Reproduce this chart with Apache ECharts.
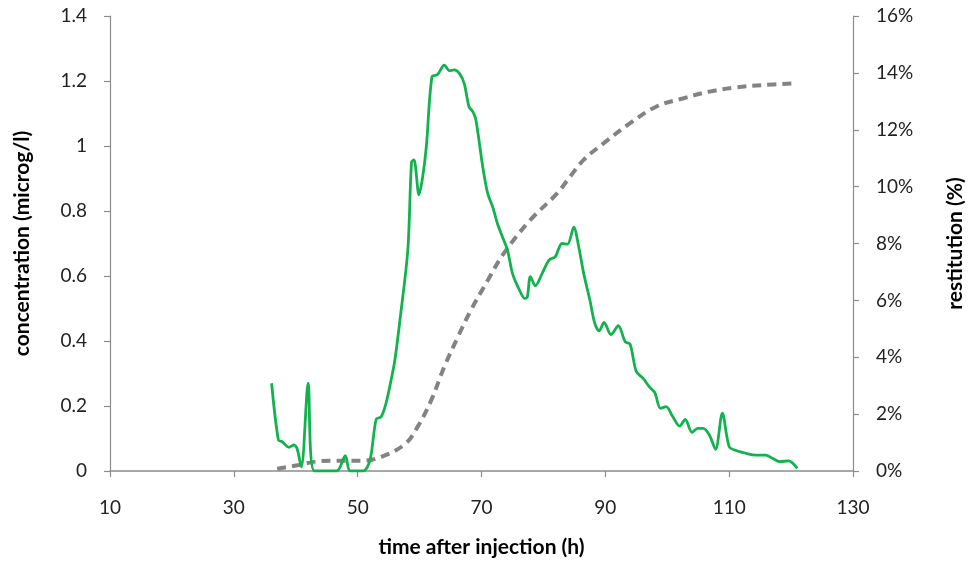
<!DOCTYPE html>
<html>
<head>
<meta charset="utf-8">
<title>concentration and restitution</title>
<script src="https://cdn.jsdelivr.net/npm/echarts@6/dist/echarts.min.js"></script>
<style>
  html, body { margin: 0; padding: 0; background: #fff; }
  #main { width: 974px; height: 565px; }
</style>
</head>
<body>
<div id="main"></div>
<script>
// concentration curve (microg/l) against time after injection (h)
var concTime = [36.1, 37.2, 37.8, 38.9, 39.7, 40.2, 40.9, 42.0, 43.0, 46.6, 48.0, 48.8, 50.9, 52.0, 53.0, 53.8, 54.6, 55.4, 56.0,
  56.8, 58.1, 58.7, 59.1, 59.9, 60.5, 61.1, 62.0, 62.9, 64.0, 64.8, 65.6, 66.4, 67.2, 68.0, 68.6, 69.1, 70.2, 71.0, 71.8, 72.6,
  73.6, 74.2, 75.0, 76.0, 77.0, 77.4, 77.9, 78.7, 79.8, 80.9, 81.9, 83.0, 83.9, 84.9, 85.7, 86.5, 87.5, 88.3, 89.0, 89.8, 90.9,
  92.1, 93.2, 94.0, 95.0, 96.1, 97.2, 98.0, 98.9, 99.8, 100.9, 102.0, 102.9, 104.0, 104.9, 105.8, 106.8, 107.8, 108.9, 110.0,
  111.1, 113.2, 114.3, 115.9, 117.0, 118.1, 119.6, 121.0];
var concValue = [0.27, 0.095, 0.09, 0.073, 0.08, 0.07, 0.013, 0.27, 0, 0, 0.047, 0, 0, 0.034, 0.16, 0.167, 0.21, 0.28, 0.34,
  0.46, 0.68, 0.95, 0.957, 0.85, 0.905, 1.0, 1.213, 1.22, 1.249, 1.232, 1.234, 1.224, 1.193, 1.12, 1.106, 1.08, 0.936, 0.854, 0.813, 0.76,
  0.71, 0.68, 0.608, 0.562, 0.531, 0.536, 0.598, 0.57, 0.608, 0.649, 0.659, 0.70, 0.698, 0.75, 0.69, 0.608, 0.526, 0.454, 0.431, 0.457, 0.42,
  0.447, 0.398, 0.39, 0.306, 0.285, 0.257, 0.241, 0.193, 0.198, 0.167, 0.138, 0.159, 0.119, 0.131, 0.131, 0.111, 0.067, 0.178, 0.075,
  0.063, 0.052, 0.049, 0.049, 0.039, 0.029, 0.031, 0.008];

// restitution curve (%)
var restTime = [37.0, 40.5, 43.2, 46.4, 50.6, 53.8, 57.6, 59.7, 61.9, 64.0, 66.2, 68.3, 71.0, 73.6, 77.9, 82.2, 84.3, 86.5,
  89.7, 94.0, 98.2, 102.5, 106.8, 111.1, 115.4, 120.7];
var restValue = [0.08, 0.21, 0.33, 0.36, 0.36, 0.5, 0.94, 1.56, 2.5, 3.67, 4.72, 5.66, 6.7, 7.65, 8.83, 9.76, 10.35, 10.94,
  11.52, 12.23, 12.81, 13.1, 13.34, 13.49, 13.57, 13.63];

var xTicks = { min: 10, max: 130, interval: 20 };
var concTicks = { min: 0, max: 1.4, interval: 0.2 };
var restTicks = { min: 0, max: 16, interval: 2 };

function pairs(xs, ys) {
  return xs.map(function (x, i) { return [x, ys[i]]; });
}

var myChart = echarts.init(document.getElementById("main"));
var axisColor = "#8c8c8c";
var font = "Lato, 'Open Sans', sans-serif";
var titleStyle = { fontSize: 21, fontWeight: "bold", color: "#000", fontFamily: font };

var option = {
  animation: false,
  textStyle: { fontFamily: font },
  grid: { left: 110, right: 116, top: 16, bottom: 94, containLabel: false },
  xAxis: {
    type: "value",
    min: xTicks.min,
    max: xTicks.max,
    interval: xTicks.interval,
    name: "time after injection (h)",
    nameLocation: "middle",
    nameGap: 66,
    nameTextStyle: titleStyle,
    axisLine: { lineStyle: { color: axisColor, width: 1.5 } },
    axisTick: { inside: false, length: 6, lineStyle: { color: axisColor, width: 1.2 } },
    axisLabel: { color: "#222", fontSize: 19, margin: 27, fontFamily: font },
    splitLine: { show: false },
  },
  yAxis: [
    {
      type: "value",
      position: "left",
      min: concTicks.min,
      max: concTicks.max,
      interval: concTicks.interval,
      name: "concentration (microg/l)",
      nameLocation: "middle",
      nameRotate: 90,
      nameGap: 77,
      nameTextStyle: titleStyle,
      axisLine: { show: true, lineStyle: { color: axisColor, width: 1.2 } },
      axisTick: { show: true, length: 6, lineStyle: { color: axisColor, width: 1.2 } },
      axisLabel: { color: "#222", fontSize: 19, margin: 23, fontFamily: font },
      splitLine: { show: false },
    },
    {
      type: "value",
      position: "right",
      min: restTicks.min,
      max: restTicks.max,
      interval: restTicks.interval,
      name: "restitution (%)",
      nameLocation: "middle",
      nameRotate: 90,
      nameGap: 92,
      nameTextStyle: titleStyle,
      axisLine: { show: true, lineStyle: { color: axisColor, width: 1.2 } },
      axisTick: { show: true, length: 6, lineStyle: { color: axisColor, width: 1.2 } },
      axisLabel: { color: "#222", fontSize: 19, margin: 23, formatter: "{value}%", fontFamily: font },
      splitLine: { show: false },
    },
  ],
  series: [
    {
      name: "restitution",
      type: "line",
      yAxisIndex: 1,
      data: pairs(restTime, restValue),
      smooth: 0.4,
      showSymbol: false,
      lineStyle: { color: "#838383", width: 4, type: [9, 6] },
      z: 2,
    },
    {
      name: "concentration",
      type: "line",
      yAxisIndex: 0,
      data: pairs(concTime, concValue),
      smooth: 0.3,
      showSymbol: false,
      lineStyle: { color: "#12b24e", width: 2.8 },
      z: 3,
    },
  ],
};

myChart.setOption(option);
window.addEventListener("resize", function () {
  myChart.resize();
});
</script>
</body>
</html>
